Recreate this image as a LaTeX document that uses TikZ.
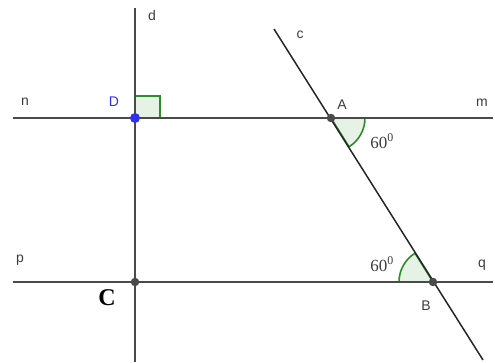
\documentclass[tikz,border=0pt]{standalone}
\usepackage{fontspec}
\setmainfont{Liberation Sans}
\newfontfamily\timesfont{Liberation Serif}
\usepackage{tikz}
\usetikzlibrary{arrows.meta,positioning,calc}
\definecolor{LineGray}{HTML}{4A4A4A}
\definecolor{LabelGray}{HTML}{3C3C3C}
\definecolor{PtBlue}{HTML}{3030F0}
\definecolor{AngGreen}{HTML}{2E8B2E}
\definecolor{SoftGreen}{HTML}{E6F2E6}

\begin{document}
\begin{tikzpicture}[
  x=1pt,y=1pt,
  line/.style={draw=LineGray,line width=2.1pt},
  thin line/.style={draw=black!85,line width=1.5pt},
  lbl/.style={text=LabelGray,font=\fontsize{14}{14}\selectfont,inner sep=0pt},
  deg/.style={text=LabelGray,font=\timesfont\fontsize{17}{17}\selectfont,inner sep=0pt},
  dot/.style={circle,fill=LineGray,inner sep=0pt,minimum size=8.5pt},
  angfill/.style={fill=SoftGreen,draw=AngGreen,line width=1.6pt}
]
\useasboundingbox (0,0) rectangle (495,362);
% points
\coordinate (D) at (135,244);
\coordinate (C) at (135,80);
\coordinate (A) at (331,244);
\coordinate (B) at (433,80);
\coordinate (dTop) at (135,354);
\coordinate (dBot) at (135,0);
\coordinate (nEnd) at (13,244);
\coordinate (mEnd) at (493,244);
\coordinate (pEnd) at (13,80);
\coordinate (qEnd) at (493,80);
\coordinate (cTop) at (274,333);
\coordinate (cBot) at (483,2);
% angle marks
\draw[angfill] (D) rectangle ++(25,22);
\draw[angfill] (A) -- ++(0:34) arc (0:-58:34) -- cycle;
\draw[angfill] (B) -- ++(180:34) arc (180:122:34) -- cycle;
% lines
\draw[line] (nEnd) -- (mEnd);
\draw[line] (pEnd) -- (qEnd);
\draw[line] (dTop) -- (dBot);
\draw[thin line] (cTop) -- (cBot);
% points
\node[dot,fill=PtBlue,minimum size=10pt] (ptD) at (D) {};
\node[dot] (ptC) at (C) {};
\node[dot] (ptA) at (A) {};
\node[dot] (ptB) at (B) {};
% labels
\node[lbl] (lblD) at (114,260) {\textcolor{PtBlue}{D}};
\node[lbl] (lbld) at (152,347) {d};
\node[lbl] (lbln) at (25,260) {n};
\node[lbl] (lblc) at (300,327) {c};
\node[lbl] (lblA) at (342,257) {A};
\node[lbl] (lblm) at (482,259) {m};
\node[lbl] (lblp) at (20,102) {p};
\node[lbl] (lblq) at (482,97) {q};
\node[lbl] (lblB) at (426,56) {B};
\node[text=black,font=\timesfont\bfseries\fontsize{24}{24}\selectfont,inner sep=0pt] (lblC) at (107,64) {C};
\node[deg] (degA) at (382,221) {60\textsuperscript{0}};
\node[deg] (degB) at (382,98) {60\textsuperscript{0}};
\end{tikzpicture}
\end{document}
